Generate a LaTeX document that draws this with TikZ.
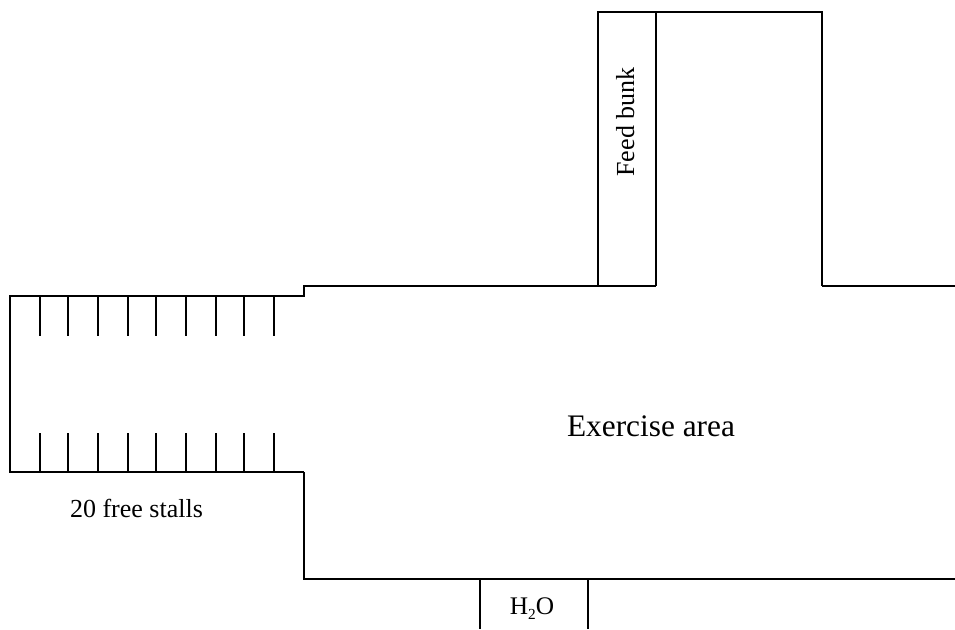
\documentclass[tikz,border=0pt]{standalone}
\usepackage{fontspec}
\setmainfont{Liberation Serif}
\usetikzlibrary{positioning}

\begin{document}
\begin{tikzpicture}[x=0.75pt, y=-0.75pt]
\tikzstyle{wall}=[draw, line width = 1.5pt, line join = miter]
\tikzstyle{lbl}=[inner sep = 0 pt, anchor = base, font = \fontsize{19.5}{24}\selectfont]
\useasboundingbox (0,0) rectangle (955,629);

%outline of the yard
\draw[wall] (304,472) -- (10,472) -- (10,296) -- (304,296) -- (304,285.5) -- (598,285.5);
\draw[wall] (598,285.5) -- (656,285.5);
\draw[wall] (822,285.5) -- (955,285.5);
\draw[wall] (304,472) -- (304,579) -- (955,579);

%feed bunk
\draw[wall] (598,285.5) -- (598,12) -- (822,12) -- (822,285.5);
\draw[wall] (656,12) -- (656,285.5);

%water
\draw[wall] (480,579) -- (480,629);
\draw[wall] (588,579) -- (588,629);

%stalls
\foreach \x in {40,68,98,128,156,186,216,244,274}{
\draw[wall, line width = 1.1pt] (\x,296) -- (\x,336);
\draw[wall, line width = 1.1pt] (\x,472) -- (\x,433);
}

\node[lbl, rotate = 90] (bunk) at (634,122) {Feed bunk};
\node[lbl, font = \fontsize{23.5}{29}\selectfont] (area) at (651,436) {Exercise area};
\node[lbl] (stalls) at (136.5,517) {20 free stalls};
\node[lbl, font = \fontsize{19}{23}\selectfont] (water) at (532,614) {H\raisebox{-4pt}{\fontsize{11.5}{13}\selectfont 2}O};
\end{tikzpicture}
\end{document}
